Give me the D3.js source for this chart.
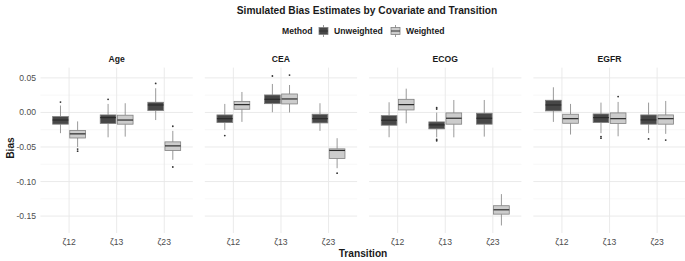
<!DOCTYPE html>
<html>
<head>
    <meta charset="UTF-8">
    <title>Simulated Bias Estimates</title>
    <style>
        body { margin: 0; background: #ffffff; overflow: hidden; }
        text { font-family: "Liberation Sans", Arial, sans-serif; }
    </style>
    <script src="https://cdn.jsdelivr.net/npm/d3@7"></script>
</head>
<body>
<script>
    // facets, x categories and fill groups
    const covariates = ["Age", "CEA", "ECOG", "EGFR"];
    const transitions = ["ζ12", "ζ13", "ζ23"];
    const methods = ["Unweighted", "Weighted"];

    // box stats per covariate, per transition: [lower whisker, q1, median, q3, upper whisker]
    const unweightedStats = [
        [[-0.030, -0.017, -0.011, -0.006, 0.010], [-0.036, -0.016, -0.0075, -0.0036, 0.0123], [-0.011, 0.0026, 0.0108, 0.0147, 0.035]],
        [[-0.0253, -0.0147, -0.009, -0.0036, 0.0123], [0.0003, 0.0127, 0.019, 0.0253, 0.0412], [-0.0267, -0.0152, -0.009, -0.0026, 0.0133]],
        [[-0.0359, -0.0185, -0.0113, -0.0046, 0.0147], [-0.0359, -0.0238, -0.018, -0.0137, -0.0003], [-0.035, -0.017, -0.0084, -0.0012, 0.018]],
        [[-0.0137, 0.0022, 0.0108, 0.0176, 0.0364], [-0.030, -0.0147, -0.0075, -0.0022, 0.0142], [-0.030, -0.017, -0.0108, -0.0036, 0.0142]]
    ];
    const weightedStats = [
        [[-0.050, -0.037, -0.031, -0.026, -0.013], [-0.035, -0.017, -0.011, -0.004, 0.0133], [-0.0686, -0.055, -0.0484, -0.0426, -0.0267]],
        [[-0.0137, 0.0046, 0.0113, 0.016, 0.0296], [0.0, 0.0123, 0.0195, 0.0267, 0.0397], [-0.0807, -0.0667, -0.055, -0.0527, -0.0373]],
        [[-0.0157, 0.0036, 0.0113, 0.019, 0.0344], [-0.036, -0.017, -0.0084, -0.0007, 0.018], [-0.1636, -0.1472, -0.1409, -0.135, -0.1182]],
        [[-0.032, -0.0157, -0.009, -0.0026, 0.0123], [-0.0345, -0.0161, -0.009, -0.0007, 0.0152], [-0.031, -0.017, -0.009, -0.0036, 0.0166]]
    ];
    // outlier points, same layout
    const unweightedOutliers = [
        [[0.015], [0.019], [0.042]],
        [[-0.0335], [0.0527], []],
        [[], [0.005, 0.007, -0.039, -0.041], []],
        [[], [-0.035, -0.0373], [-0.0383]]
    ];
    const weightedOutliers = [
        [[-0.053, -0.056], [], [-0.020, -0.079]],
        [[], [0.054], [-0.0879]],
        [[], [], []],
        [[], [0.0229], [-0.040]]
    ];
    const yTicks = [-0.15, -0.10, -0.05, 0.00, 0.05];
    const yMinor = [-0.125, -0.075, -0.025, 0.025];

    const width = 685, height = 261;
    const panelTop = 67.6, panelBottom = 233;
    const panelLeft = 40.5, panelW = 152.3, panelGap = 12;

    const fillColor = d3.scaleOrdinal().domain(methods).range(["#474747", "#cccccc"]);

    const svg = d3.select("body").append("svg")
        .attr("width", width).attr("height", height);

    // rows: one per box
    const rows = [];
    covariates.forEach((cov, ci) => {
        transitions.forEach((tr, ti) => {
            [unweightedStats, weightedStats].forEach((src, mi) => {
                const s = src[ci][ti];
                rows.push({
                    cov, tr, method: methods[mi],
                    lo: s[0], q1: s[1], med: s[2], q3: s[3], hi: s[4],
                    out: (mi === 0 ? unweightedOutliers : weightedOutliers)[ci][ti]
                });
            });
        });
    });

    const allVals = rows.flatMap(d => [d.lo, d.hi, ...d.out]);
    const ext = d3.extent(allVals);
    const pad = (ext[1] - ext[0]) * 0.05;
    const y = d3.scaleLinear()
        .domain([ext[0] - pad, ext[1] + pad])
        .range([panelBottom, panelTop]);

    const x = d3.scalePoint().domain(transitions).range([0, panelW]).padding(0.6);
    const step = x.step();
    const dodge = d3.scalePoint().domain(methods).range([-0.18 * step, 0.18 * step]);
    const boxW = 0.33 * step;

    const facet = d3.scaleBand().domain(covariates)
        .range([panelLeft, panelLeft + 4 * panelW + 3 * panelGap])
        .paddingInner(panelGap / (panelW + panelGap));

    // title
    svg.append("text")
        .attr("x", 367).attr("y", 14)
        .attr("text-anchor", "middle")
        .attr("font-size", 10.2).attr("font-weight", "bold")
        .attr("fill", "#1a1a1a")
        .text("Simulated Bias Estimates by Covariate and Transition");

    // legend
    const lg = svg.append("g").attr("transform", "translate(0,31)");
    lg.append("text").attr("x", 282).attr("y", 3).attr("font-size", 8.6)
        .attr("font-weight", "bold").attr("fill", "#1a1a1a").text("Method");
    const keyX = [319, 391], labX = [334, 406];
    methods.forEach((m, i) => {
        const k = lg.append("g").attr("transform", `translate(${keyX[i]},0)`);
        k.append("line").attr("x1", 4.5).attr("x2", 4.5).attr("y1", -6).attr("y2", 6)
            .attr("stroke", "#808080").attr("stroke-width", 0.8);
        k.append("rect").attr("x", 0).attr("y", -3.5).attr("width", 9).attr("height", 7)
            .attr("fill", fillColor(m)).attr("stroke", "#808080").attr("stroke-width", 0.8);
        k.append("line").attr("x1", 0).attr("x2", 9).attr("y1", 0).attr("y2", 0)
            .attr("stroke", "#333").attr("stroke-width", 1);
        lg.append("text").attr("x", labX[i]).attr("y", 3).attr("font-size", 8.6)
            .attr("font-weight", "bold").attr("fill", "#1a1a1a").text(m);
    });

    // panels
    covariates.forEach(cov => {
        const g = svg.append("g").attr("transform", `translate(${facet(cov)},0)`);

        g.selectAll(".minor").data(yMinor).join("line")
            .attr("x1", 0).attr("x2", panelW)
            .attr("y1", d => y(d)).attr("y2", d => y(d))
            .attr("stroke", "#f2f2f2").attr("stroke-width", 0.6);
        g.selectAll(".major").data(yTicks).join("line")
            .attr("x1", 0).attr("x2", panelW)
            .attr("y1", d => y(d)).attr("y2", d => y(d))
            .attr("stroke", "#e8e8e8").attr("stroke-width", 0.9);
        g.selectAll(".vmajor").data(transitions).join("line")
            .attr("x1", d => x(d)).attr("x2", d => x(d))
            .attr("y1", panelTop).attr("y2", panelBottom)
            .attr("stroke", "#e8e8e8").attr("stroke-width", 0.9);

        // strip label
        g.append("text").attr("x", panelW / 2).attr("y", 62)
            .attr("text-anchor", "middle").attr("font-size", 8.6)
            .attr("font-weight", "bold").attr("fill", "#1a1a1a").text(cov);

        // x tick labels
        g.selectAll(".xt").data(transitions).join("text")
            .attr("x", d => x(d)).attr("y", 245)
            .attr("text-anchor", "middle").attr("font-size", 8.6)
            .attr("fill", "#4d4d4d").text(d => d);

        const boxes = g.selectAll(".box").data(rows.filter(d => d.cov === cov)).join("g")
            .attr("transform", d => `translate(${x(d.tr) + dodge(d.method)},0)`);
        boxes.append("line")
            .attr("x1", 0).attr("x2", 0)
            .attr("y1", d => y(d.hi)).attr("y2", d => y(d.q3))
            .attr("stroke", "#808080").attr("stroke-width", 0.8);
        boxes.append("line")
            .attr("x1", 0).attr("x2", 0)
            .attr("y1", d => y(d.q1)).attr("y2", d => y(d.lo))
            .attr("stroke", "#808080").attr("stroke-width", 0.8);
        boxes.append("rect")
            .attr("x", -boxW / 2).attr("width", boxW)
            .attr("y", d => y(d.q3)).attr("height", d => y(d.q1) - y(d.q3))
            .attr("fill", d => fillColor(d.method))
            .attr("stroke", "#808080").attr("stroke-width", 0.8);
        boxes.append("line")
            .attr("x1", -boxW / 2).attr("x2", boxW / 2)
            .attr("y1", d => y(d.med)).attr("y2", d => y(d.med))
            .attr("stroke", "#2b2b2b").attr("stroke-width", 1.2);
        boxes.selectAll("circle").data(d => d.out).join("circle")
            .attr("cx", 0).attr("cy", d => y(d)).attr("r", 0.9)
            .attr("fill", "#333");
    });

    // y axis labels (left panel only)
    svg.selectAll(".yt").data(yTicks).join("text")
        .attr("x", 36).attr("y", d => y(d) + 3)
        .attr("text-anchor", "end").attr("font-size", 8.6)
        .attr("fill", "#4d4d4d").text(d => d3.format(".2f")(d).replace("−", "-"));

    // axis titles
    svg.append("text").attr("x", 363).attr("y", 257)
        .attr("text-anchor", "middle").attr("font-size", 10.2)
        .attr("font-weight", "bold").attr("fill", "#1a1a1a").text("Transition");
    svg.append("text").attr("transform", "translate(14,148) rotate(-90)")
        .attr("text-anchor", "middle").attr("font-size", 10.2)
        .attr("font-weight", "bold").attr("fill", "#1a1a1a").text("Bias");
</script>
</body>
</html>
